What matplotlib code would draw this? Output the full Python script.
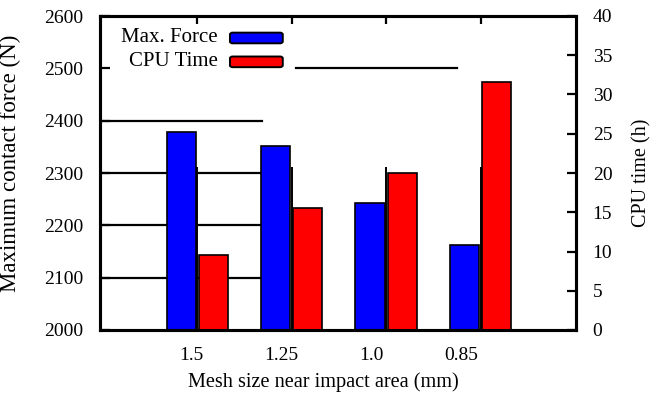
import numpy as np
import matplotlib
matplotlib.use("Agg")
import matplotlib.pyplot as plt
import matplotlib.patches as mpatches

plt.rcParams['font.family'] = ['Liberation Serif', 'DejaVu Serif']
plt.rcParams['font.size'] = 14

mesh = ['1.5', '1.25', '1.0', '0.85']
max_force = [2379, 2351, 2243, 2162]
cpu_time = [9.6, 15.6, 20.0, 31.6]
series = ['Max. Force', 'CPU Time']
colors = ['#0000ff', '#ff0000']

x = np.arange(len(mesh))
w = 0.31
off = 0.17

fig = plt.figure(figsize=(6.52, 4.03), dpi=100)
ax = fig.add_axes([100/652, 1-330/403, 476/652, 314/403])
ax2 = ax.twinx()

ax.set_xlim(-1.03, 4.01)
ax.set_ylim(2000, 2600)
ax2.set_ylim(0, 40)

# odd broken grid segments from the original
for yv in [2100, 2200, 2300, 2400]:
    ax.plot([-1.03, 0.69], [yv, yv], color='k', lw=1.6, zorder=1)
ax.plot([1.04, 2.75], [2500, 2500], color='k', lw=1.6, zorder=1)
ax.vlines(x, 2000, 2312, color='k', lw=1.4, zorder=1)

ax.bar(x - off, max_force, w, color=colors[0], edgecolor='k', lw=1.2, zorder=2)
ax2.bar(x + off, cpu_time, w, color=colors[1], edgecolor='k', lw=1.2, zorder=2)

ax.set_yticks(np.arange(2000, 2601, 100))
ax2.set_yticks(np.arange(0, 41, 5))
ax.tick_params(axis='y', direction='in', length=7.5, width=1.6, pad=12)
ax2.tick_params(axis='y', direction='in', length=6.5, width=1.6, pad=12)

ax.set_xticks(x)
ax.set_xticklabels([])
ax.tick_params(axis='x', which='both', bottom=False, top=True, direction='in', length=5.5, width=1.6)
lab_x = x - 0.067 - 0.047 * x
for xi, s in zip(lab_x, mesh):
    ax.text(xi, -0.08, s, transform=ax.get_xaxis_transform(), ha='center', va='center')

for a in (ax, ax2):
    for sp in a.spines.values():
        sp.set_linewidth(2.2)

ax.set_xlabel('Mesh size near impact area (mm)', fontsize=14.6)
ax.xaxis.set_label_coords(0.47, -0.134)
ax.set_ylabel('Maximum contact force (N)', fontsize=16.5)
ax.yaxis.set_label_coords(-0.165, 0.532)
ax2.set_ylabel('CPU time (h)', fontsize=14.5)
ax2.yaxis.set_label_coords(1.118, 0.5)

# legend: text then swatch
for i, (s, c) in enumerate(zip(series, colors)):
    yc = 0.930 - i * 0.076
    ax2.text(0.248, yc, s, transform=ax.transAxes, ha='right', va='center', fontsize=15)
    ax2.add_patch(mpatches.FancyBboxPatch((0.273, yc - 0.017), 0.111, 0.034,
                  boxstyle='round,pad=0,rounding_size=0.006', transform=ax.transAxes,
                  facecolor=c, edgecolor='k', lw=1.4, clip_on=False))

fig.savefig('out.png', dpi=100)
